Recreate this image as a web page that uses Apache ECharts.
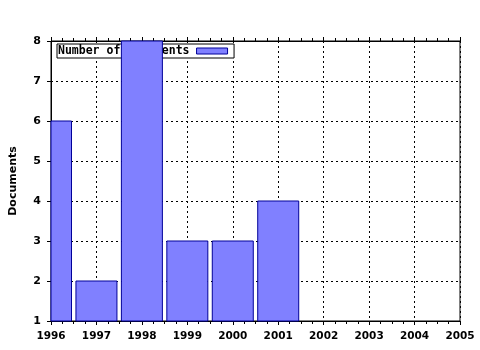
<!DOCTYPE html>
<html><head><meta charset="utf-8">
<script src="https://cdn.jsdelivr.net/npm/echarts@6/dist/echarts.min.js"></script>
<style>html,body{margin:0;padding:0;background:#fff}#c{width:480px;height:350px}</style>
</head><body><div id="c"></div>
<script>
const years = [1996, 1997, 1998, 1999, 2000, 2001];
const documents = [6, 2, 8, 3, 3, 4];
const seriesName = 'Number of Documents';
const yAxisName = 'Documents';

const chart = echarts.init(document.getElementById('c'), null, {renderer: 'canvas'});
const font = 'DejaVu Sans';
const barFill = '#8080ff', barBorder = '#000099';
const dotted = {show: true, lineStyle: {color: '#000', width: 1, type: [2, 3]}};
chart.setOption({
  animation: false,
  grid: {left: 51, right: 20, top: 41, bottom: 29, show: true, borderColor: '#000', borderWidth: 1, backgroundColor: 'transparent'},
  legend: {
    left: 57, top: 44, orient: 'horizontal', align: 'right',
    backgroundColor: '#fff', borderColor: '#000', borderWidth: 1,
    padding: [1, 6, 1, 1], itemWidth: 31, itemHeight: 6,
    textStyle: {fontFamily: 'DejaVu Sans Mono', fontWeight: 'bold', fontSize: 11.5, color: '#000', lineHeight: 11, padding: [0, 2, 0, 0]},
    data: [{name: seriesName, icon: 'rect', itemStyle: {color: barFill, borderColor: barBorder, borderWidth: 1}}]
  },
  xAxis: [{
    type: 'value', min: 1996, max: 2005, interval: 1,
    axisLine: {show: true, onZero: false, lineStyle: {color: '#000', width: 1}},
    axisTick: {show: true, length: 4, lineStyle: {color: '#000'}},
    minorTick: {show: true, splitNumber: 4, length: 3, lineStyle: {color: '#000'}},
    splitLine: dotted,
    axisLabel: {fontFamily: font, fontWeight: 'bold', fontSize: 10.5, color: '#000', margin: 10, showMaxLabel: true, showMinLabel: true, formatter: v => String(v)}
  }, {
    type: 'value', position: 'top', min: 1996, max: 2005, interval: 1,
    axisLine: {show: true, onZero: false, lineStyle: {color: '#000', width: 1}},
    axisTick: {show: true, length: 4, lineStyle: {color: '#000'}},
    minorTick: {show: true, splitNumber: 4, length: 3, lineStyle: {color: '#000'}},
    splitLine: {show: false}, axisLabel: {show: false}
  }],
  yAxis: {
    type: 'value', min: 1, max: 8, interval: 1,
    name: yAxisName, nameLocation: 'middle', nameGap: 32,
    nameTextStyle: {fontFamily: font, fontWeight: 'bold', fontSize: 11, color: '#000'},
    axisLine: {show: true, onZero: false, lineStyle: {color: '#000', width: 1}},
    axisTick: {show: true, length: 4, lineStyle: {color: '#000'}},
    splitLine: dotted,
    axisLabel: {fontFamily: font, fontWeight: 'bold', fontSize: 11, color: '#000', margin: 10}
  },
  series: [{
    name: seriesName, type: 'custom', z: 10, xAxisIndex: 0,
    itemStyle: {color: barFill, borderColor: barBorder, borderWidth: 1},
    encode: {x: 0, y: 1},
    renderItem: function (params, api) {
      const top = api.coord([api.value(0), api.value(1)]);
      const base = api.coord([api.value(0), 1]);
      const w = 41;
      const rect = echarts.graphic.clipRectByRect(
        {x: top[0] - w / 2, y: top[1], width: w, height: base[1] - top[1]},
        {x: params.coordSys.x, y: params.coordSys.y, width: params.coordSys.width, height: params.coordSys.height});
      if (!rect) return null;
      return {type: 'rect', shape: rect, style: {fill: barFill, stroke: barBorder, lineWidth: 1}};
    },
    data: years.map((y, i) => [y, documents[i]])
  }]
});
</script></body></html>
